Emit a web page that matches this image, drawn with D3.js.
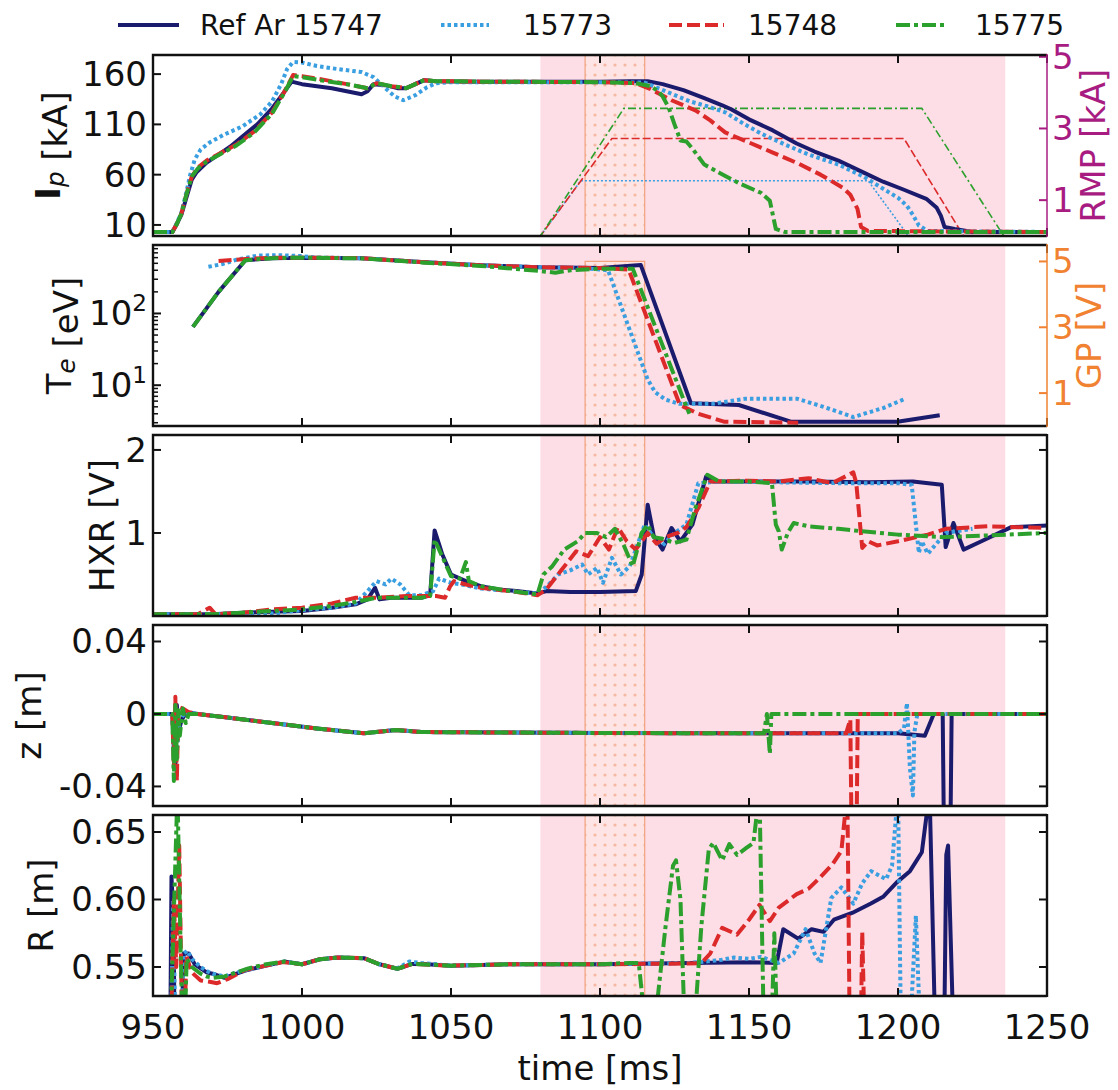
<!DOCTYPE html>
<html>
<head>
<meta charset="utf-8">
<script src="https://cdn.jsdelivr.net/npm/d3@7"></script>
<style>
  body { margin: 0; background: #fff; }
  svg text { font-family: "DejaVu Sans", sans-serif; fill: #111; }
</style>
</head>
<body>
<div id="chart"></div>
<script>
// Multi-panel shot comparison (Ip / Te / HXR / z / R vs time)

// ---- data ----
const timeDomain = [950, 1250];
const timeTicks = [950, 1000, 1050, 1100, 1150, 1200, 1250];
const rmpWindow = [1080, 1236];   // pink shaded interval
const gpWindow = [1095, 1115];    // gas puff interval

const shotNames = ['Ref Ar 15747', '15773', '15748', '15775'];

// plasma current [kA]
const ip15747 = [[950,3],[956.5,3],[958,11],[959.5,20],[961,35],[963,55],[964.5,62],[968,72],[972,80],[976,88],[980,98],[985,110],[990,126],[994,142],[996.5,152.5],[1000,150],[1005,148],[1010,146],[1015,143],[1020,140],[1022,143],[1024,150],[1028,149],[1032,146],[1035,146],[1038,150],[1041,154],[1045,153],[1060,152.5],[1080,152.5],[1100,152.5],[1110,153],[1116,153],[1121,150],[1128,144],[1135,136],[1141,129],[1144,125],[1150,115],[1158,104],[1166,91],[1172,83],[1180,74],[1188.5,62],[1195,53],[1202,45],[1209.5,36],[1213,27],[1214.4,19],[1215.6,8],[1219,6],[1225,3],[1250,3]];
const ip15773 = [[950,3],[956.5,3],[958,12],[959.5,22],[961,40],[962.5,60],[964,75],[966,85],[969,92],[974,100],[980,108],[986,120],[990,133],[993,150],[995,165],[997,172],[1000,171.5],[1005,168],[1012,165],[1020,162],[1024,157],[1028,146],[1031,138],[1034,134],[1038,139],[1042,147],[1045,151],[1050,152],[1080,152],[1100,152],[1115,151.5],[1122,143],[1130,133],[1136,128],[1142,122],[1148,111],[1154,101],[1162,90],[1170,80],[1180,70],[1188.5,58],[1195,46],[1200,37],[1203,29],[1205,20],[1207,9.5],[1210,4],[1250,3]];
const ip15748 = [[950,3],[956.5,3],[958,11],[959.5,21],[961,38],[963,58],[965,67],[968,74],[973,82],[978,90],[984,103],[990,122],[994,142],[997,159],[1000,158],[1008,154],[1015,150],[1022,146],[1025,151],[1030,148],[1035,146],[1038,150],[1041,154],[1045,153],[1060,152.5],[1100,152],[1112,151],[1117,145],[1124,134],[1132,124],[1137,114],[1142,102],[1150,92],[1158,82],[1166.6,71],[1174,60],[1181.5,47],[1184,40],[1186.4,26],[1187.6,8],[1190,4],[1250,3]];
const ip15775 = [[950,3],[956.5,3],[958,11],[959.5,21],[961,38],[963,58],[965,66],[968,73],[973,81],[978,89],[984,102],[990,121],[994,141],[997,158],[1000,157],[1008,153],[1015,150],[1022,146],[1025,151],[1030,148],[1035,146],[1038,150],[1041,154],[1045,153],[1060,152.5],[1100,152],[1112,151],[1117,148],[1119.5,143],[1121,138],[1123,127],[1125,110],[1127,94],[1129,93],[1131,86],[1135,70],[1140,62],[1147,51],[1154,42],[1157,34],[1158,20],[1159,6],[1162,3],[1250,3]];

// RMP coil current [kA]
const rmp15773 = [[950,0],[1080,0],[1093.5,1.54],[1190,1.54],[1203.5,0],[1250,0]];
const rmp15748 = [[950,0],[1080,0],[1104,2.72],[1202,2.72],[1222,0],[1250,0]];
const rmp15775 = [[950,0],[1080,0],[1108,3.56],[1208,3.56],[1235.5,0],[1250,0]];

// electron temperature [eV]
const te15747 = [[963.4,65],[972,200],[981,553],[990,590],[1000,600],[1020,590],[1040,520],[1060,470],[1080,440],[1100,430],[1113.7,472],[1130.5,5.6],[1146.6,5.3],[1164,3.1],[1199.8,3.1],[1214,3.8]];
const te15773 = [[968.6,447],[973.5,490],[978,560],[985,640],[992,650],[1000,630],[1005,600],[1020,590],[1040,520],[1060,470],[1080,440],[1095,425],[1102.7,400],[1116,12],[1118.5,8],[1122,6.3],[1126.6,5.5],[1137.6,5.5],[1149,6.5],[1166,6.5],[1175,5],[1185,3.6],[1195,4.8],[1202.5,6.5]];
const te15748 = [[972,540],[980,570],[990,600],[1000,600],[1020,590],[1040,520],[1060,470],[1080,440],[1100,430],[1109.6,410],[1126.8,5.3],[1133,4],[1141.6,3.1],[1166.5,3.0]];
const te15775 = [[963.4,65],[972,200],[981,553],[990,590],[1000,600],[1020,585],[1040,515],[1060,460],[1080,390],[1085,370],[1090,400],[1100,420],[1111,420],[1129,5],[1130,4]];

// gas puff voltage [V]
const gpTime = [950, 1095, 1095, 1115, 1115, 1250];
const gpVolt = [0, 0, 5, 5, 0, 0];

// hard X-ray [V]
const hxr15747 = [[950,0.02],[970,0.02],[980,0.04],[990,0.05],[1000,0.06],[1010,0.1],[1018,0.14],[1022,0.2],[1024.5,0.34],[1026,0.2],[1030,0.22],[1040,0.22],[1043,0.25],[1044.5,1.03],[1047,0.75],[1050,0.5],[1055,0.42],[1060,0.36],[1066,0.32],[1072,0.3],[1079,0.27],[1082,0.3],[1090,0.29],[1100,0.29],[1112,0.3],[1114,0.5],[1116,1.34],[1118,0.97],[1121,0.8],[1124,1.06],[1127,0.9],[1131,1.1],[1135.6,1.68],[1138,1.62],[1150,1.62],[1170,1.62],[1190,1.61],[1205,1.62],[1214.7,1.58],[1216,0.83],[1218.6,1.12],[1222,0.8],[1228,0.9],[1238,1.07],[1250,1.09]];
const hxr15773 = [[950,0.02],[975,0.02],[990,0.03],[1000,0.07],[1010,0.1],[1018,0.15],[1022,0.3],[1025,0.42],[1028,0.38],[1030,0.45],[1033,0.38],[1036,0.25],[1040,0.25],[1044,0.3],[1046,0.45],[1050,0.4],[1055,0.37],[1060,0.33],[1070,0.3],[1079,0.27],[1082,0.35],[1086,0.5],[1090,0.55],[1094,0.62],[1096,0.5],[1099,0.58],[1101,0.4],[1104,0.7],[1107,0.5],[1110,0.6],[1112,0.8],[1115,1.1],[1118,0.95],[1121,0.85],[1125,1.0],[1129,1.1],[1133,1.6],[1140,1.62],[1160,1.61],[1180,1.6],[1200,1.6],[1204.6,1.58],[1207,0.76],[1208,0.9],[1210,0.75],[1216,1.0],[1225,1.05]];
const hxr15748 = [[950,0.02],[965,0.02],[969,0.1],[971,0.02],[980,0.04],[990,0.08],[1000,0.1],[1010,0.15],[1018,0.22],[1025,0.22],[1035,0.24],[1045,0.24],[1048,0.22],[1049.6,0.35],[1051,0.42],[1055,0.38],[1060,0.34],[1070,0.3],[1079,0.25],[1082,0.32],[1087,0.55],[1092,0.78],[1096,0.72],[1100,0.95],[1103,0.8],[1106,1.07],[1109,0.9],[1112,0.8],[1116,1.0],[1119,0.87],[1122,0.95],[1126,1.0],[1129,1.07],[1133,1.3],[1137,1.62],[1150,1.63],[1160,1.62],[1170,1.66],[1178,1.6],[1185,1.73],[1186,1.6],[1188,0.82],[1190,0.9],[1193,0.85],[1200,0.9],[1210,0.98],[1216,1.05],[1230,1.08],[1250,1.06]];
const hxr15775 = [[950,0.02],[970,0.02],[980,0.04],[990,0.06],[1000,0.08],[1010,0.12],[1018,0.17],[1025,0.22],[1036,0.22],[1040,0.22],[1043,0.24],[1044.5,0.92],[1047,0.72],[1050,0.48],[1053,0.45],[1055,0.65],[1056,0.42],[1060,0.36],[1070,0.3],[1079,0.26],[1081,0.5],[1084,0.6],[1088,0.8],[1092.5,0.9],[1095,1.0],[1099,1.0],[1102,0.95],[1105,1.05],[1108,0.85],[1111,0.6],[1114,1.0],[1116,1.1],[1118,0.95],[1121,0.93],[1125,0.88],[1129,0.92],[1132,1.3],[1136,1.7],[1140,1.62],[1150,1.62],[1157.7,1.6],[1159,1.1],[1160,1.02],[1161,0.8],[1163,1.0],[1165,1.12],[1170,1.08],[1180,1.05],[1188,1.02],[1200,0.98],[1215,0.95],[1230,0.97],[1250,1.0]];

// vertical position z [m]
const z15747 = [[950,0],[956.5,0],[957,-0.02],[957.5,-0.03],[958,0.005],[958.5,-0.01],[959.5,-0.004],[961,0.001],[965,0],[975,-0.002],[990,-0.005],[1005,-0.008],[1020.8,-0.0107],[1031.5,-0.0088],[1040,-0.01],[1100,-0.0105],[1150,-0.0107],[1200,-0.0107],[1209,-0.012],[1212,0],[1215,0],[1215.5,-0.08],[1217.5,-0.08],[1218,0],[1250,0]];
const z15773 = [[950,0],[956.5,0],[957,-0.025],[957.5,0.004],[958,-0.02],[959,-0.003],[961,0.001],[965,0],[975,-0.002],[990,-0.005],[1005,-0.008],[1020.8,-0.0107],[1031.5,-0.0088],[1040,-0.01],[1100,-0.0105],[1150,-0.0107],[1200,-0.0107],[1202,-0.008],[1203,0.006],[1204,-0.03],[1205,-0.045],[1205.5,-0.01],[1206.5,0],[1250,0]];
const z15748 = [[950,0],[956.5,0],[957,-0.03],[957.5,0.0095],[958,-0.037],[958.5,0.004],[960,0.003],[962,0.001],[965,0],[975,-0.002],[990,-0.005],[1005,-0.008],[1020.8,-0.0107],[1031.5,-0.0088],[1040,-0.01],[1100,-0.0105],[1150,-0.0107],[1182.6,-0.0107],[1184,-0.003],[1184.5,-0.08],[1186,-0.08],[1186.5,0],[1250,0]];
const z15775 = [[950,0],[956.5,0],[957,-0.037],[957.5,0.005],[958,-0.025],[958.5,0.002],[959,-0.012],[960,0.003],[961,-0.005],[962,0],[965,0],[975,-0.002],[990,-0.005],[1005,-0.008],[1020.8,-0.0107],[1031.5,-0.0088],[1040,-0.01],[1100,-0.0105],[1155,-0.0107],[1156,0],[1157,-0.022],[1157.5,0],[1250,0]];

// major radius R [m]
const r15747 = [[955.8,0.5],[956.2,0.617],[956.8,0.59],[957.3,0.5],[959.5,0.5],[960.3,0.56],[962,0.56],[964,0.552],[966,0.549],[968,0.546],[970,0.545],[974,0.542],[978,0.545],[982,0.548],[988,0.551],[994,0.554],[1000,0.552],[1006,0.5557],[1012,0.557],[1020.8,0.5565],[1026,0.552],[1032,0.5487],[1034,0.55],[1037,0.5523],[1042,0.552],[1050,0.551],[1070,0.552],[1100,0.552],[1130,0.553],[1150,0.5535],[1159.3,0.553],[1161.5,0.578],[1166.5,0.571],[1171,0.578],[1175,0.576],[1178.5,0.585],[1184.6,0.59],[1190.9,0.597],[1195,0.602],[1199.5,0.6125],[1204,0.621],[1208,0.635],[1210.6,0.68],[1212.5,0.5],[1215.5,0.5],[1216.2,0.633],[1216.8,0.64],[1218.6,0.5]];
const r15773 = [[956,0.5],[956.8,0.6],[957.5,0.5],[959.5,0.5],[960.3,0.56],[961.5,0.562],[963,0.556],[966,0.55],[968,0.547],[970,0.545],[974,0.543],[978,0.546],[982,0.548],[988,0.551],[994,0.554],[1000,0.552],[1006,0.5557],[1012,0.557],[1020.8,0.5565],[1026,0.552],[1032,0.549],[1036,0.554],[1040,0.553],[1050,0.551],[1070,0.552],[1100,0.552],[1130,0.553],[1140,0.555],[1145,0.557],[1150,0.556],[1154,0.5575],[1160,0.553],[1165,0.56],[1169,0.578],[1172,0.56],[1174,0.553],[1177.6,0.601],[1181,0.609],[1185,0.597],[1188,0.612],[1191,0.621],[1196,0.615],[1198,0.625],[1200,0.68],[1201,0.5],[1204,0.5],[1206,0.588],[1207.5,0.5]];
const r15748 = [[956,0.5],[957,0.6],[957.8,0.55],[958.8,0.64],[959.8,0.5],[960.5,0.5],[961.2,0.558],[963,0.546],[966,0.54],[969,0.539],[971.5,0.538],[975,0.541],[981,0.548],[988,0.551],[993.5,0.5536],[1000,0.552],[1006,0.5557],[1012,0.557],[1020.8,0.5565],[1026,0.552],[1032,0.5487],[1037,0.5523],[1050,0.551],[1070,0.552],[1100,0.552],[1134,0.5527],[1137,0.56],[1141,0.579],[1146,0.574],[1150,0.585],[1153.5,0.596],[1157,0.584],[1160,0.594],[1166,0.604],[1170,0.608],[1173.7,0.616],[1178,0.626],[1181,0.636],[1183,0.68],[1183.8,0.5],[1187.5,0.5],[1188,0.576],[1188.8,0.5]];
const r15775 = [[955.8,0.5],[958.2,0.68],[959.3,0.56],[960,0.5],[960.6,0.5],[961.3,0.556],[963,0.55],[966,0.545],[968,0.543],[970,0.542],[974,0.543],[978,0.546],[982,0.549],[988,0.552],[994,0.554],[1000,0.552],[1006,0.5557],[1012,0.557],[1020.8,0.5565],[1026,0.552],[1032,0.5487],[1037,0.5523],[1050,0.551],[1070,0.552],[1100,0.552],[1110,0.553],[1113,0.553],[1115.5,0.5],[1118,0.5],[1122,0.58],[1124.5,0.625],[1125.5,0.629],[1127,0.6],[1128.5,0.5],[1131.5,0.5],[1134,0.58],[1136.5,0.637],[1138,0.642],[1141,0.629],[1143.4,0.641],[1146,0.633],[1149,0.638],[1151.5,0.642],[1153.5,0.68],[1155,0.5],[1157.5,0.5],[1158.5,0.575],[1159.5,0.5]];

// ---- layout / style ----
const width = 1118, height = 1090;
const plotLeft = 153, plotRight = 1047;
const panelTops = [55, 245, 435, 625, 815];
const panelHeight = 181;

const shotColors = ['#1b1b6e', '#3a9fe0', '#dc2a2a', '#2ca02c'];
const shotDashes = [null, '3.5,3', '13,5', '14,4,4,4'];
const thinDashes = [null, '2,2', '8,3', '8,3,2,3'];
const pink = '#fddde6';
const gpOrange = '#f08232';
const rmpPurple = '#a81c82';
const tickFont = 34;
const traceWidth = 4;

const panels = [
    { series: [ip15747, ip15773, ip15748, ip15775], domain: [-1, 179], ticks: [10, 60, 110, 160],
      fmt: d => String(d), label: [['I', 'bold'], ['p', 'sub'], [' [kA]']], labelX: 48 },
    { series: [te15747, te15773, te15748, te15775], domain: [2.7, 900], log: true, ticks: [10, 100],
      label: [['T'], ['e', 'sub'], [' [eV]']], labelX: 59 },
    { series: [hxr15747, hxr15773, hxr15748, hxr15775], domain: [0, 2.18], ticks: [1, 2],
      fmt: d => String(d), label: [['HXR [V]']], labelX: 102 },
    { series: [z15747, z15773, z15748, z15775], domain: [-0.0508, 0.0491], ticks: [-0.04, 0, 0.04],
      fmt: d => d === 0 ? '0' : d.toFixed(2), label: [['z [m]']], labelX: 29 },
    { series: [r15747, r15773, r15748, r15775], domain: [0.5285, 0.6626], ticks: [0.55, 0.60, 0.65],
      fmt: d => d.toFixed(2), label: [['R [m]']], labelX: 41 }
];

const svg = d3.select('#chart').append('svg')
    .attr('width', width)
    .attr('height', height);
const defs = svg.append('defs');

// dotted hatch for the gas puff window
const pat = defs.append('pattern')
    .attr('id', 'gpDots')
    .attr('width', 10).attr('height', 10)
    .attr('patternUnits', 'userSpaceOnUse');
pat.append('rect').attr('width', 10).attr('height', 10).attr('fill', 'rgba(255,236,226,0.5)');
pat.append('circle').attr('cx', 5).attr('cy', 5).attr('r', 1.6).attr('fill', '#f5b8a2');

const x = d3.scaleLinear().domain(timeDomain).range([plotLeft, plotRight]);

function addRichText(sel, parts) {
    parts.forEach(([txt, kind]) => {
        const t = sel.append('tspan').text(txt);
        if (kind === 'bold') t.attr('font-weight', 'bold');
        if (kind === 'sub') {
            t.attr('dy', '0.3em').attr('font-size', '0.72em').attr('font-style', 'italic');
            sel.append('tspan').attr('dy', '-0.22em').text('');
        }
    });
}

panels.forEach((p, i) => {
    const top = panelTops[i];
    const bottom = top + panelHeight;
    const y = (p.log ? d3.scaleLog() : d3.scaleLinear()).domain(p.domain).range([bottom, top]);
    const g = svg.append('g');

    defs.append('clipPath').attr('id', 'clip' + i)
        .append('rect')
        .attr('x', plotLeft).attr('y', top)
        .attr('width', plotRight - plotLeft).attr('height', panelHeight);
    const plot = g.append('g').attr('clip-path', `url(#clip${i})`);

    // shaded RMP window
    plot.append('rect')
        .attr('x', x(rmpWindow[0])).attr('y', top)
        .attr('width', x(rmpWindow[1]) - x(rmpWindow[0])).attr('height', panelHeight)
        .attr('fill', pink);

    // gas puff window
    if (i === 1) {
        const gp = d3.scaleLinear().domain([0, 5.5]).range([bottom, top]);
        const gpPts = gpTime.map((t, k) => [t, gpVolt[k]]);
        plot.append('path')
            .datum(gpPts)
            .attr('d', d3.line().x(d => x(d[0])).y(d => gp(d[1])))
            .attr('fill', 'url(#gpDots)')
            .attr('stroke', '#f2a27c')
            .attr('stroke-width', 1.2);
    } else {
        plot.append('rect')
            .attr('x', x(gpWindow[0])).attr('y', top)
            .attr('width', x(gpWindow[1]) - x(gpWindow[0])).attr('height', panelHeight)
            .attr('fill', 'url(#gpDots)');
        gpWindow.forEach(t => {
            plot.append('line')
                .attr('x1', x(t)).attr('x2', x(t))
                .attr('y1', top).attr('y2', bottom)
                .attr('stroke', '#f2a27c').attr('stroke-width', 1.2);
        });
    }

    const line = d3.line().x(d => x(d[0])).y(d => y(d[1]));

    // RMP coil currents on twin axis
    if (i === 0) {
        const rmp = d3.scaleLinear().domain([0, 5.05]).range([bottom, top]);
        const rline = d3.line().x(d => x(d[0])).y(d => rmp(d[1]));
        [null, rmp15773, rmp15748, rmp15775].forEach((s, k) => {
            if (!s) return;
            plot.append('path').datum(s)
                .attr('d', rline)
                .attr('fill', 'none')
                .attr('stroke', shotColors[k])
                .attr('stroke-width', 1.6)
                .attr('stroke-dasharray', thinDashes[k]);
        });
    }

    p.series.forEach((s, k) => {
        plot.append('path').datum(s)
            .attr('d', line)
            .attr('fill', 'none')
            .attr('stroke', shotColors[k])
            .attr('stroke-width', traceWidth)
            .attr('stroke-linejoin', 'round')
            .attr('stroke-dasharray', shotDashes[k]);
    });

    // x ticks (inward, top and bottom)
    timeTicks.forEach(t => {
        g.append('line').attr('x1', x(t)).attr('x2', x(t)).attr('y1', bottom).attr('y2', bottom - 8)
            .attr('stroke', '#111').attr('stroke-width', 2);
        g.append('line').attr('x1', x(t)).attr('x2', x(t)).attr('y1', top).attr('y2', top + 8)
            .attr('stroke', '#111').attr('stroke-width', 2);
    });

    // y ticks
    const twin = i < 2;
    if (p.log) {
        const minor = [];
        for (let dec = 1; dec <= 100; dec *= 10) {
            for (let m = 2; m <= 9; m++) minor.push(m * dec);
        }
        minor.filter(v => v > p.domain[0] && v < p.domain[1]).forEach(v => {
            g.append('line').attr('x1', plotLeft).attr('x2', plotLeft + 5)
                .attr('y1', y(v)).attr('y2', y(v))
                .attr('stroke', '#111').attr('stroke-width', 1.5);
        });
    }
    p.ticks.forEach(v => {
        g.append('line').attr('x1', plotLeft).attr('x2', plotLeft + 8)
            .attr('y1', y(v)).attr('y2', y(v))
            .attr('stroke', '#111').attr('stroke-width', 2);
        if (!twin) {
            g.append('line').attr('x1', plotRight).attr('x2', plotRight - 8)
                .attr('y1', y(v)).attr('y2', y(v))
                .attr('stroke', '#111').attr('stroke-width', 2);
        }
        const lbl = g.append('text')
            .attr('x', plotLeft - 6).attr('y', y(v))
            .attr('text-anchor', 'end')
            .attr('dominant-baseline', 'central')
            .attr('font-size', tickFont);
        if (p.log) {
            lbl.append('tspan').text('10');
            lbl.append('tspan').attr('dy', '-0.45em').attr('font-size', '0.68em')
                .text(String(Math.round(Math.log10(v))));
        } else {
            lbl.text(p.fmt(v));
        }
    });

    // left axis label
    const lx = p.labelX, ly = top + panelHeight / 2;
    const lab = g.append('text')
        .attr('x', lx).attr('y', ly)
        .attr('transform', `rotate(-90,${lx},${ly})`)
        .attr('text-anchor', 'middle')
        .attr('dominant-baseline', 'central')
        .attr('font-size', tickFont);
    addRichText(lab, p.label);

    // twin right axes
    if (twin) {
        const color = i === 0 ? rmpPurple : gpOrange;
        const rs = i === 0
            ? d3.scaleLinear().domain([0, 5.05]).range([bottom, top])
            : d3.scaleLinear().domain([0, 5.5]).range([bottom, top]);
        [1, 3, 5].forEach(v => {
            g.append('line').attr('x1', plotRight - 8).attr('x2', plotRight)
                .attr('y1', rs(v)).attr('y2', rs(v))
                .attr('stroke', color).attr('stroke-width', 2);
            g.append('text')
                .attr('x', plotRight + 5).attr('y', rs(v))
                .attr('dominant-baseline', 'central')
                .attr('font-size', tickFont)
                .style('fill', color)
                .text(v);
        });
        const rx = i === 0 ? 1093 : 1089;
        g.append('text')
            .attr('x', rx).attr('y', ly)
            .attr('transform', `rotate(-90,${rx},${ly})`)
            .attr('text-anchor', 'middle')
            .attr('dominant-baseline', 'central')
            .attr('font-size', tickFont)
            .style('fill', color)
            .text(i === 0 ? 'RMP [kA]' : 'GP [V]');
    }

    // spines
    g.append('path')
        .attr('d', `M${plotRight},${top}H${plotLeft}V${bottom}H${plotRight}`)
        .attr('fill', 'none').attr('stroke', '#111').attr('stroke-width', 2.4);
    g.append('line')
        .attr('x1', plotRight).attr('x2', plotRight).attr('y1', top - 1).attr('y2', bottom + 1)
        .attr('stroke', twin ? (i === 0 ? rmpPurple : gpOrange) : '#111')
        .attr('stroke-width', twin ? 1.5 : 2.4);

    // x tick labels on bottom panel
    if (i === panels.length - 1) {
        timeTicks.forEach(t => {
            g.append('text')
                .attr('x', x(t)).attr('y', bottom + 31)
                .attr('text-anchor', 'middle')
                .attr('dominant-baseline', 'central')
                .attr('font-size', tickFont)
                .text(t);
        });
        g.append('text')
            .attr('x', (plotLeft + plotRight) / 2).attr('y', bottom + 72)
            .attr('text-anchor', 'middle')
            .attr('dominant-baseline', 'central')
            .attr('font-size', tickFont)
            .text('time [ms]');
    }
});

// legend
const legendPos = [[118, 179, 200], [441, 489, 523], [669, 724, 748], [896, 947, 975]];
const legendY = 25;
shotNames.forEach((name, k) => {
    const [x0, x1, tx] = legendPos[k];
    svg.append('line')
        .attr('x1', x0).attr('x2', x1).attr('y1', legendY).attr('y2', legendY)
        .attr('stroke', shotColors[k]).attr('stroke-width', traceWidth)
        .attr('stroke-dasharray', shotDashes[k]);
    svg.append('text')
        .attr('x', tx).attr('y', legendY)
        .attr('dominant-baseline', 'central')
        .attr('font-size', 28)
        .text(name);
});
</script>
</body>
</html>
